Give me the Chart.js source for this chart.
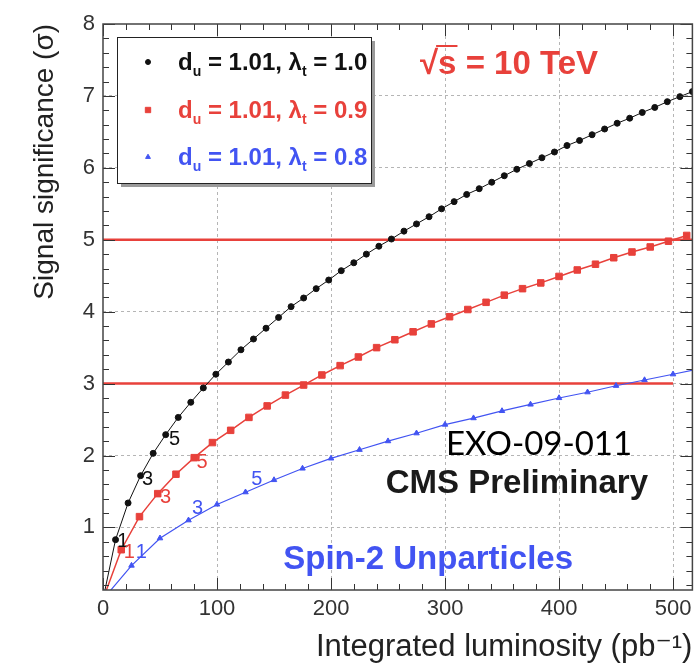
<!DOCTYPE html>
<html>
<head>
<meta charset="utf-8">
<title>Signal significance vs integrated luminosity</title>
<script src="https://cdn.jsdelivr.net/npm/chart.js@4.4.1/dist/chart.umd.min.js"></script>
<style>
  html, body { margin: 0; padding: 0; background: #fff; }
  #wrap { width: 698px; height: 667px; position: relative; }
</style>
</head>
<body>
<div id="wrap"><canvas id="sigChart"></canvas></div>
<script>
// integrated luminosity (pb^-1) and signal significance (sigma)
const lumiBlack = [0, 11, 22, 33, 44, 55, 66, 77, 88, 99, 110, 121, 132, 143, 154, 165,
  176, 187, 198, 209, 220, 231, 242, 253, 264, 275, 286, 297, 308, 319, 330, 341,
  352, 363, 374, 385, 396, 407, 418, 429, 440, 451, 462, 473, 484, 495, 506, 517];
const sigBlack = [0, 0.83, 1.34, 1.72, 2.03, 2.29, 2.53, 2.74, 2.94, 3.13, 3.30, 3.47,
  3.62, 3.77, 3.92, 4.07, 4.19, 4.32, 4.44, 4.57, 4.68, 4.80, 4.91, 5.01,
  5.12, 5.22, 5.32, 5.43, 5.53, 5.63, 5.71, 5.80, 5.89, 5.98, 6.06, 6.14,
  6.22, 6.31, 6.38, 6.46, 6.54, 6.62, 6.69, 6.77, 6.84, 6.92, 6.99, 7.06];

const lumiRed = [0, 16, 32, 48, 64, 80, 96, 112, 128, 144, 160, 176, 192, 208, 224, 240,
  256, 272, 288, 304, 320, 336, 352, 368, 384, 400, 416, 432, 448, 464, 480, 496, 512];
const sigRed = [0, 0.69, 1.15, 1.47, 1.74, 1.97, 2.18, 2.35, 2.53, 2.69, 2.84, 2.98,
  3.12, 3.25, 3.37, 3.50, 3.61, 3.72, 3.83, 3.93, 4.03, 4.13, 4.23, 4.32,
  4.40, 4.49, 4.58, 4.66, 4.75, 4.83, 4.90, 4.98, 5.06];

const lumiBlue = [0, 25, 50, 75, 100, 125, 150, 175, 200, 225, 250, 275, 300, 325, 350,
  375, 400, 425, 450, 475, 500, 525];
const sigBlue = [0, 0.47, 0.85, 1.10, 1.32, 1.49, 1.66, 1.82, 1.96, 2.08, 2.20, 2.31,
  2.43, 2.52, 2.62, 2.71, 2.80, 2.88, 2.97, 3.05, 3.13, 3.21];

// 5 sigma and 3 sigma reference lines
const lumi5Sigma = [0, 520];
const sig5Sigma = [5, 5];
const lumi3Sigma = [0, 500];
const sig3Sigma = [3, 3];

const xTicks = [0, 100, 200, 300, 400, 500];
const yTicks = [1, 2, 3, 4, 5, 6, 7, 8];

const BLACK = '#111111';
const RED = '#e8413b';
const BLUE = '#4254f2';
const FONT = "'Liberation Sans', Arial, 'DejaVu Sans', sans-serif";

function toPoints(xs, ys) {
  return xs.map((x, i) => ({ x: x, y: ys[i] }));
}

// small run of text with subscripts, drawn left to right
function drawRich(ctx, parts, x, y, size, color) {
  ctx.fillStyle = color;
  ctx.textBaseline = 'alphabetic';
  ctx.textAlign = 'left';
  for (const p of parts) {
    if (p.sub) {
      ctx.font = 'bold ' + Math.round(size * 0.6) + 'px ' + FONT;
      ctx.fillText(p.t, x, y + size * 0.25);
    } else {
      ctx.font = 'bold ' + size + 'px ' + FONT;
      ctx.fillText(p.t, x, y);
    }
    x += ctx.measureText(p.t).width;
  }
}

const overlay = {
  id: 'overlay',
  afterDatasetsDraw(chart) {
    const { ctx, chartArea: a, scales: { x, y } } = chart;
    ctx.save();
    ctx.strokeStyle = '#333';
    ctx.lineWidth = 1;
    ctx.beginPath();
    // inward ticks, top and bottom
    for (let v = 0; v <= x.max; v += 20) {
      const px = Math.round(x.getPixelForValue(v)) + 0.5;
      const len = v % 100 === 0 ? 12 : 6;
      ctx.moveTo(px, a.bottom); ctx.lineTo(px, a.bottom - len);
      ctx.moveTo(px, a.top); ctx.lineTo(px, a.top + len);
    }
    // inward ticks, left and right
    for (let i = 1; i <= 40; i++) {
      const v = i / 5;
      if (v < y.min) continue;
      const py = Math.round(y.getPixelForValue(v)) + 0.5;
      const len = i % 5 === 0 ? 12 : 6;
      ctx.moveTo(a.left, py); ctx.lineTo(a.left + len, py);
      ctx.moveTo(a.right, py); ctx.lineTo(a.right - len, py);
    }
    ctx.stroke();
    ctx.lineWidth = 1.5;
    ctx.strokeStyle = '#444';
    ctx.strokeRect(a.left, a.top, a.width, a.height);
    ctx.restore();
  },
  afterDraw(chart) {
    const { ctx, scales: { x, y } } = chart;
    ctx.save();

    // numbers along the curves
    ctx.font = '20px ' + FONT;
    ctx.textAlign = 'center';
    ctx.textBaseline = 'middle';
    const tags = [
      ['1', 17.4, 0.81, BLACK], ['3', 39, 1.67, BLACK], ['5', 62.7, 2.22, BLACK],
      ['1', 23, 0.65, RED], ['3', 54.8, 1.42, RED], ['5', 87, 1.90, RED],
      ['1', 33.7, 0.65, BLUE], ['3', 83, 1.27, BLUE], ['5', 135, 1.67, BLUE]
    ];
    for (const [t, vx, vy, c] of tags) {
      ctx.fillStyle = c;
      ctx.fillText(t, x.getPixelForValue(vx), y.getPixelForValue(vy));
    }

    // legend box with shadow
    const lx = 117, ly = 37, lw = 254, lh = 146;
    ctx.fillStyle = '#9a9a9a';
    ctx.fillRect(lx + 4, ly + 4, lw, lh);
    ctx.fillStyle = '#fff';
    ctx.fillRect(lx, ly, lw, lh);
    ctx.strokeStyle = '#222';
    ctx.lineWidth = 1;
    ctx.strokeRect(lx + 0.5, ly + 0.5, lw, lh);

    const rows = [
      { c: BLACK, style: 'circle', r: 2.5, lam: '1.0', yy: 62 },
      { c: RED, style: 'rect', r: 3.8, lam: '0.9', yy: 110 },
      { c: BLUE, style: 'triangle', r: 2.8, lam: '0.8', yy: 157 }
    ];
    for (const row of rows) {
      ctx.fillStyle = row.c;
      ctx.strokeStyle = row.c;
      Chart.helpers.drawPoint(ctx, { pointStyle: row.style, radius: row.r, borderWidth: 1 }, 148, row.yy);
      drawRich(ctx, [
        { t: 'd' }, { t: 'u', sub: true }, { t: ' = 1.01, λ' }, { t: 't', sub: true },
        { t: ' = ' + row.lam }
      ], 178, row.yy + 8, 24, row.c);
    }

    // sqrt(s) = 10 TeV
    ctx.fillStyle = RED;
    ctx.textAlign = 'left';
    ctx.textBaseline = 'alphabetic';
    ctx.font = 'bold 33px ' + FONT;
    const rootW = ctx.measureText('√').width;
    ctx.fillText('√s = 10 TeV', 420, 74);
    const sW = ctx.measureText('s').width;
    ctx.strokeStyle = RED;
    ctx.lineWidth = 2;
    ctx.beginPath();
    ctx.moveTo(420 + rootW - 2, 46);
    ctx.lineTo(420 + rootW + sW + 1, 46);
    ctx.stroke();

    // experiment labels
    ctx.fillStyle = '#000';
    ctx.font = "33px Lato, 'Open Sans', sans-serif";
    ctx.fillText('EXO-09-011', 446, 455);

    ctx.fillStyle = '#1a1a1a';
    ctx.font = 'bold 33px ' + FONT;
    ctx.textAlign = 'right';
    ctx.fillText('CMS Preliminary', 648, 493);

    ctx.fillStyle = BLUE;
    ctx.fillText('Spin-2 Unparticles', 573, 569);
    ctx.restore();
  }
};

function curve(label, xs, ys, color, style, radius, width) {
  return {
    label: label,
    data: toPoints(xs, ys),
    borderColor: color,
    backgroundColor: color,
    borderWidth: width,
    pointStyle: style,
    pointRadius: radius,
    pointBorderWidth: 1,
    pointHoverRadius: radius,
    tension: 0
  };
}

const ctx = document.getElementById('sigChart').getContext('2d');
new Chart(ctx, {
  type: 'line',
  data: {
    datasets: [
      curve('du = 1.01, lambda = 1.0', lumiBlack, sigBlack, BLACK, 'circle', 3, 1),
      curve('du = 1.01, lambda = 0.9', lumiRed, sigRed, RED, 'rect', 4.6, 1.5),
      curve('du = 1.01, lambda = 0.8', lumiBlue, sigBlue, BLUE, 'triangle', 3.2, 1.2),
      {
        label: '5 sigma',
        data: toPoints(lumi5Sigma, sig5Sigma),
        borderColor: RED, borderWidth: 2.5, pointRadius: 0
      },
      {
        label: '3 sigma',
        data: toPoints(lumi3Sigma, sig3Sigma),
        borderColor: RED, borderWidth: 2.5, pointRadius: 0
      }
    ]
  },
  options: {
    responsive: true,
    maintainAspectRatio: false,
    animation: false,
    events: [],
    layout: { padding: { left: 0, right: 1, top: 24, bottom: 0 } },
    plugins: {
      legend: { display: false },
      tooltip: { enabled: false }
    },
    scales: {
      x: {
        type: 'linear',
        min: 0,
        max: 517,
        afterBuildTicks: s => { s.ticks = xTicks.map(v => ({ value: v })); },
        afterFit: s => { s.height = 77; },
        ticks: {
          font: { family: FONT, size: 22 },
          color: '#333',
          padding: 6,
          maxRotation: 0,
          autoSkip: false
        },
        grid: {
          color: c => (c.tick && c.tick.value > 0 ? '#b5b5b5' : 'rgba(0,0,0,0)'),
          drawTicks: false
        },
        border: { display: false, dash: [3, 3] },
        title: {
          display: true,
          text: 'Integrated luminosity (pb⁻¹)',
          align: 'end',
          color: '#222',
          font: { family: FONT, size: 31 },
          padding: { top: 0, bottom: 1 }
        }
      },
      y: {
        type: 'linear',
        min: 0.13,
        max: 8,
        afterBuildTicks: s => { s.ticks = yTicks.map(v => ({ value: v })); },
        afterFit: s => { s.width = 103; },
        ticks: {
          font: { family: FONT, size: 22 },
          color: '#333',
          padding: 8
        },
        grid: {
          color: c => (c.tick && c.tick.value < 8 ? '#b5b5b5' : 'rgba(0,0,0,0)'),
          drawTicks: false
        },
        border: { display: false, dash: [3, 3] },
        title: {
          display: true,
          text: 'Signal significance (σ)',
          align: 'end',
          color: '#222',
          font: { family: FONT, size: 28 },
          padding: { top: 28, bottom: 0 }
        }
      }
    }
  },
  plugins: [overlay]
});
</script>
</body>
</html>
